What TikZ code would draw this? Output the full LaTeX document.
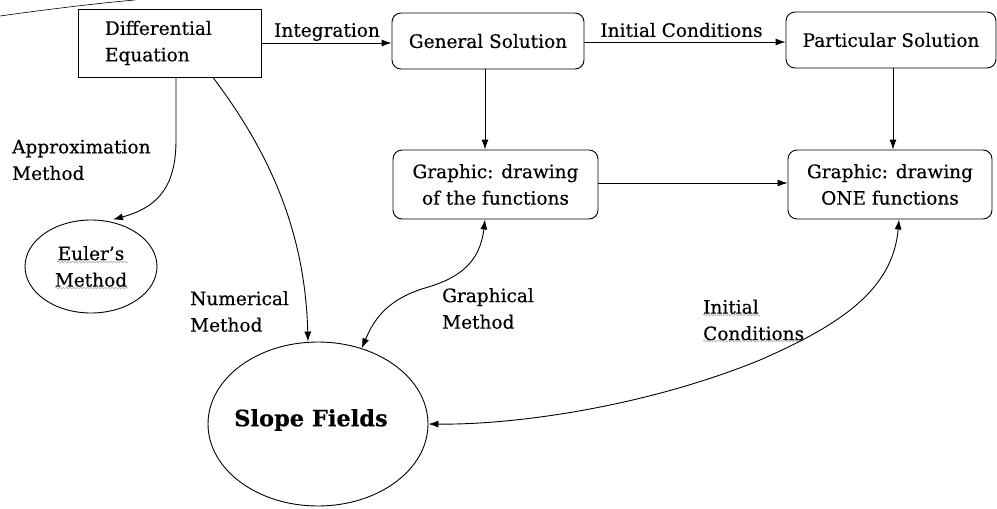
\documentclass[tikz,border=0pt]{standalone}
\usepackage{fontspec}
\setmainfont[FakeBold=0.4]{DejaVu Serif}
\usetikzlibrary{arrows.meta,shapes.geometric,decorations.pathmorphing}
\begin{document}
\begin{tikzpicture}[x=1pt,y=-1pt,
  every node/.style={font=\fontsize{18.5}{26.5}\selectfont},
  sqbox/.style={draw,line width=0.9pt,minimum width=183pt,minimum height=68pt,inner xsep=27pt,text width=129pt,align=left},
  rbox/.style={draw,line width=0.9pt,rounded corners=9pt,align=center,inner sep=0pt},
  oval/.style={draw,line width=0.9pt,ellipse,inner sep=0pt,align=center},
  lbl/.style={align=left,inner sep=0pt},
  conn/.style={line width=0.9pt,-{Latex[length=10pt,width=7pt]}},
  conn2/.style={line width=0.9pt,{Latex[length=10pt,width=7pt]}-{Latex[length=10pt,width=7pt]}},
  squig/.style={gray!70,line width=0.6pt,decorate,decoration={snake,amplitude=0.9pt,segment length=3.5pt}}
]
\useasboundingbox (0,0) rectangle (997,509);
% scan line at top left
\draw[line width=0.6pt] (0,16) .. controls (50,9) and (100,3) .. (135,0);

\node[sqbox] (de) at (169.5,43) {Differential\\Equation};
\node[rbox,minimum width=192pt,minimum height=56pt] (gs) at (488,41) {General Solution};
\node[rbox,minimum width=210pt,minimum height=56pt] (ps) at (891,40) {Particular Solution};
\node[rbox,minimum width=205pt,minimum height=69pt] (gl) at (495.5,184.5) {Graphic: drawing\\of the functions};
\node[rbox,minimum width=204pt,minimum height=69pt] (gr) at (890,184.5) {Graphic: drawing\\ONE functions};
\node[oval,minimum width=132pt,minimum height=93pt] (eu) at (91,266.5) {Euler's\\Method};
\node[oval,minimum width=220pt,minimum height=164pt] (sf) at (318,424) {};
\node[inner sep=0pt,font=\fontsize{22.5}{26}\selectfont\bfseries] (sft) at (311,420) {Slope Fields};

% labels
\node[lbl] (lint) at (327,32) {Integration};
\node[lbl] (lic) at (681.5,30) {Initial Conditions};
\node[lbl,anchor=west] (lap) at (12,160) {Approximation\\Method};
\node[lbl,anchor=west] (lnm) at (190,311.5) {Numerical\\Method};
\node[lbl,anchor=west] (lgm) at (442,308.5) {Graphical\\Method};
\node[lbl,anchor=west] (lic2) at (703,320) {Initial\\Conditions};

% spell-check squiggles
\draw[squig] (57,262) -- (128,262);
\draw[squig] (55,288) -- (128,288);
\draw[squig] (703,315) -- (760,315);
\draw[squig] (703,341) -- (804,341);

% connectors
\draw[conn] (de.east |- 0,43) -- (gs.west |- 0,43);
\draw[conn] (gs.east |- 0,42) -- (ps.west |- 0,42);
\draw[conn] (gs.south -| 485,0) -- (gl.north -| 485,0);
\draw[conn] (ps.south -| 893,0) -- (gr.north -| 893,0);
\draw[conn] (gl.east |- 0,183) -- (gr.west |- 0,183);
\draw[conn] (de.south -| 176,0) -- (176,140) .. controls (176,190) and (155,208) .. (eu.north -| 113,0);
\draw[conn] (de.south -| 213,0) .. controls (260,140) and (305,220) .. (sf.north -| 308,0);
\draw[conn2] (gl.south -| 485,0) .. controls (480,262) and (460,278) .. (425,288) .. controls (385,300) and (373,322) .. (sf.60);
\draw[conn2] (gr.south -| 899,0) .. controls (893,290) and (840,325) .. (760,360) .. controls (650,405) and (520,425) .. (sf.east);
\end{tikzpicture}
\end{document}
